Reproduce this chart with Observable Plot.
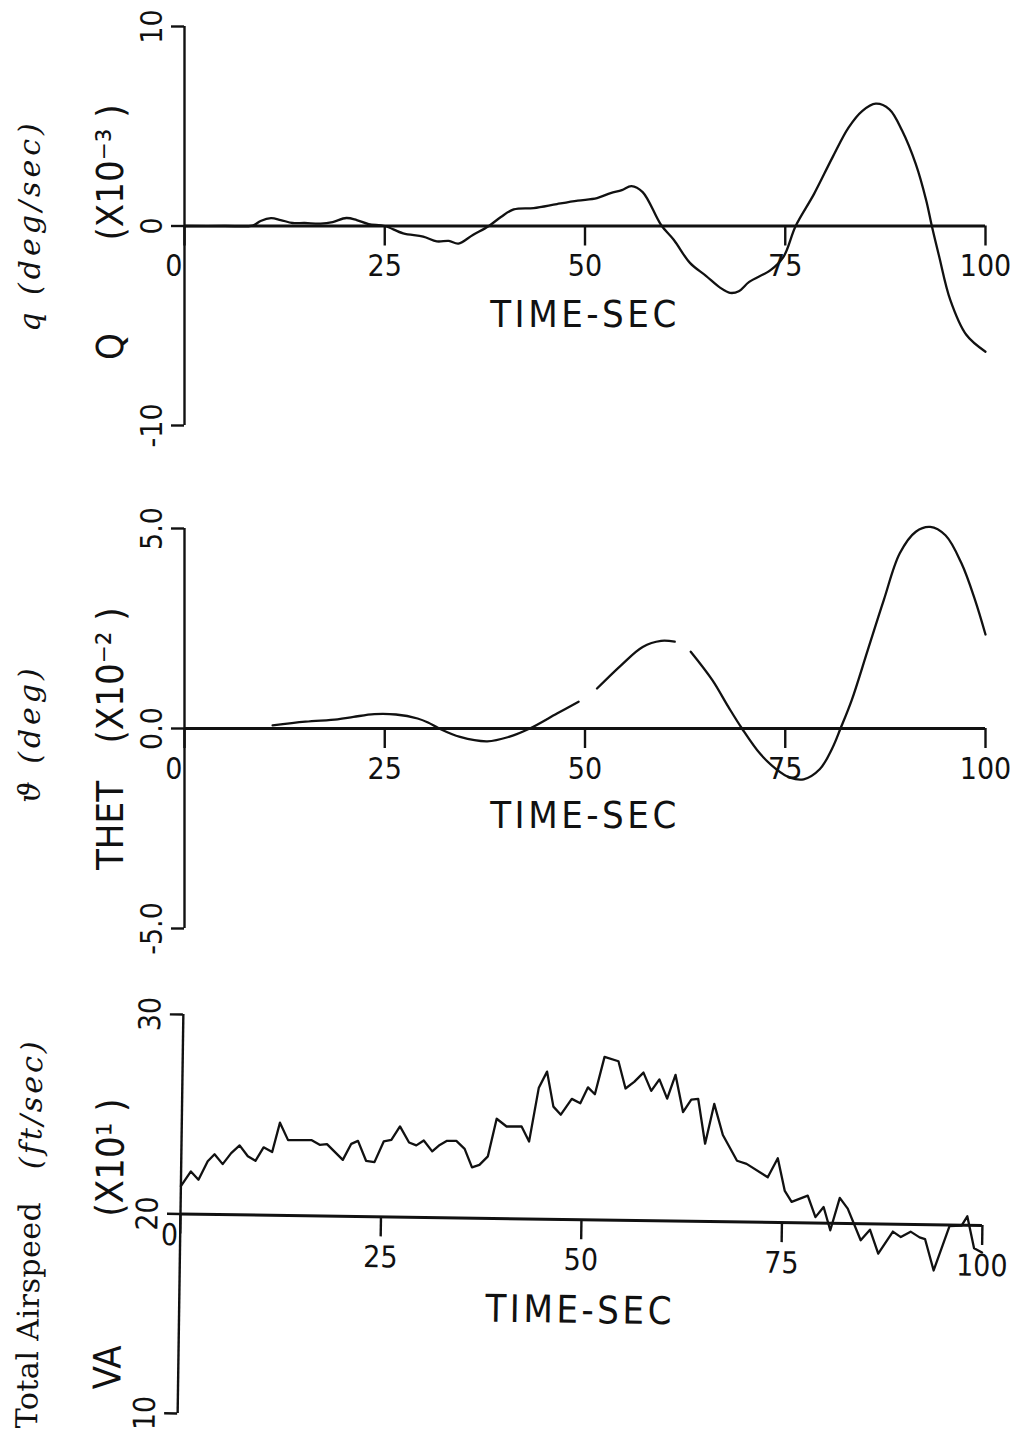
<!DOCTYPE html>
<html>
<head>
<meta charset="utf-8">
<script src="https://cdn.jsdelivr.net/npm/d3@7"></script>
<script src="https://cdn.jsdelivr.net/npm/@observablehq/plot@0.6"></script>
<style>
  html, body { margin: 0; padding: 0; background: #fff; }
  #chart { position: relative; width: 1022px; height: 1438px; overflow: hidden; background: #fff; }
  #chart svg { position: absolute; left: 0; overflow: visible; }
</style>
</head>
<body>
<div id="chart"></div>
<script>
// ---------- shared x axis ----------
const xDomain = [0, 100];
const xTicks = [0, 25, 50, 75, 100];
const xTickLabels = ["0", "25", "50", "75", "100"];
const xLabel = "TIME-SEC";

// ---------- panel 1 : Q ----------
const qDomain = [-10, 10];
const qTicks = [-10, 0, 10];
const qTickLabels = ["-10", "0", "10"];
const qAxisLevel = 0;
const qName = "Q";
const qScale = "(X10\u207B\u00B3 )";
const qUnits = "q (deg/sec)";
const qTime = [0, 5, 8.5, 9.5, 10.8, 12, 13.5, 15, 17, 18.5, 20.2, 21.5, 23, 25, 27.3, 29.8, 31.5, 33, 34.2, 36, 38, 39.5, 41.1, 43.6, 46.5, 49.1, 51.5, 53.2, 54.6, 55.8, 57.2, 59.5, 61.1, 63.1, 65.1, 66.9, 68.1, 69.2, 70.5, 73.2, 74.8, 76.3, 78.6, 80.9, 82.9, 84.6, 86.3, 88, 89.6, 91.3, 92.6, 93.3, 94.2, 95.6, 97.6, 100];
const qValue = [0, 0, 0.02, 0.25, 0.39, 0.3, 0.15, 0.15, 0.12, 0.2, 0.4, 0.3, 0.1, 0, -0.37, -0.53, -0.77, -0.75, -0.88, -0.45, 0, 0.45, 0.83, 0.9, 1.1, 1.27, 1.4, 1.65, 1.8, 2.0, 1.7, 0.05, -0.7, -1.85, -2.5, -3.1, -3.35, -3.27, -2.8, -2.2, -1.53, 0, 1.61, 3.44, 4.93, 5.76, 6.13, 5.85, 4.77, 3.1, 1.28, 0, -1.5, -3.7, -5.45, -6.3];

// ---------- panel 2 : THET ----------
const thetDomain = [-5, 5];
const thetTicks = [-5, 0, 5];
const thetTickLabels = ["-5.0", "0.0", "5.0"];
const thetAxisLevel = 0;
const thetName = "THET";
const thetScale = "(X10\u207B\u00B2 )";
const thetUnits = "\u03D1 (deg)";
const thetTime = [11, 15.1, 19.1, 21.1, 23.7, 26.4, 29.1, 30.4, 31.8, 34.4, 37.8, 40.5, 43.1, 46.5, 49.2, 50.3, 51.5, 54.5, 57.2, 59.5, 61.2, 62.2, 63.2, 65.9, 67.9, 69.6, 71.9, 73.9, 75.6, 77.3, 79.3, 80.9, 81.9, 83.3, 85.3, 87.3, 89.3, 91.3, 93.1, 95.0, 97.0, 98.7, 100];
const thetValue = [0.08, 0.17, 0.23, 0.29, 0.36, 0.35, 0.25, 0.15, 0, -0.21, -0.32, -0.21, 0, 0.375, 0.67, null, 1.0, 1.58, 2.04, 2.19, 2.17, null, 1.92, 1.21, 0.54, 0, -0.64, -1.02, -1.23, -1.27, -1.02, -0.48, 0, 0.71, 1.96, 3.21, 4.38, 4.92, 5.04, 4.83, 4.13, 3.21, 2.35];

// ---------- panel 3 : VA ----------
const vaDomain = [10, 30];
const vaTicks = [10, 20, 30];
const vaTickLabels = ["10", "20", "30"];
const vaAxisLevel = 20;
const vaName = "VA";
const vaScale = "(X10\u00B9 )";
const vaUnitsMain = "Total Airspeed";
const vaUnitsParen = "(ft/sec)";
const vaTime = [0, 1.22, 2.18, 3.3, 4.14, 5.17, 6.21, 7.25, 8.29, 9.25, 10.24, 11.32, 12.24, 13.28, 16.18, 17.23, 18.14, 20.14, 21.17, 22.0, 23.04, 24.09, 25.21, 26.16, 27.21, 28.37, 29.28, 30.2, 31.27, 32.2, 33.1, 34.26, 35.31, 36.26, 37.18, 38.22, 39.25, 40.5, 42.37, 43.33, 44.45, 45.45, 46.3, 47.24, 48.58, 49.65, 50.58, 51.45, 52.59, 54.33, 55.26, 56.33, 57.47, 58.47, 59.47, 60.47, 61.47, 62.47, 63.48, 64.34, 65.28, 66.35, 67.48, 69.29, 70.49, 73.15, 74.37, 75.3, 76.17, 78.17, 79.17, 80.17, 81.04, 82.17, 83.18, 84.85, 85.99, 87.06, 88.85, 89.85, 91.06, 92.19, 92.87, 94.0, 95.9, 97.4, 98.1, 99.0, 100];
const vaValue = [21.4, 22.14, 21.73, 22.66, 23.02, 22.53, 23.09, 23.48, 22.94, 22.72, 23.4, 23.17, 24.65, 23.78, 23.8, 23.57, 23.61, 22.83, 23.64, 23.79, 22.8, 22.74, 23.78, 23.87, 24.55, 23.75, 23.61, 23.86, 23.32, 23.65, 23.86, 23.86, 23.47, 22.55, 22.68, 23.11, 25.0, 24.62, 24.63, 23.88, 26.59, 27.4, 25.65, 25.25, 26.05, 25.84, 26.64, 26.3, 28.18, 27.97, 26.61, 26.95, 27.42, 26.51, 27.09, 26.13, 27.33, 25.47, 26.1, 26.14, 23.9, 25.9, 24.35, 23.07, 22.92, 22.26, 23.22, 21.59, 21.05, 21.37, 20.3, 20.81, 19.65, 21.28, 20.75, 19.17, 19.71, 18.51, 19.63, 19.36, 19.64, 19.36, 19.28, 17.71, 19.95, 19.98, 20.45, 18.85, 18.65];

// ---------- drawing ----------
const FONT_PLOT = "'Liberation Sans Narrow','DejaVu Sans Condensed','DejaVu Sans Mono',monospace";
const FONT_UNITS = "'DejaVu Serif','Liberation Serif',serif";
const INK = "#111";

function makePanel(o) {
  const data = o.time.map((t, i) => ({t, v: o.value[i]}));
  const yLabelMap = new Map(o.ticks.map((d, i) => [d, o.tickLabels[i]]));
  const xLabelMap = new Map(xTicks.map((d, i) => [d, xTickLabels[i]]));
  const H = o.height;
  const yTop = o.yTopPx - o.top;
  const yBot = o.yBotPx - o.top;
  const yScale = d3.scaleLinear().domain(o.domain).range([yBot, yTop]);
  const baseY = yScale(o.axisLevel);
  const frameMid = (yTop + baseY) / 2;
  const spacing = new Map([[xLabel, "3.5px"]]);
  const titles = o.titles.map(({label, pageY, spacing: sp, ...opts}) => {
    if (sp) spacing.set(label, sp);
    return Plot.text([label], {
      frameAnchor: "left", rotate: -90, fill: INK,
      fontFamily: FONT_PLOT, fontSize: 38, textAnchor: "middle", lineAnchor: "middle",
      ...opts,
      dy: pageY - o.top - frameMid
    });
  });
  const svg = Plot.plot({
    width: 1022,
    height: H,
    marginLeft: o.left,
    marginRight: o.right,
    marginTop: yTop,
    marginBottom: H - baseY,
    x: {domain: xDomain},
    y: {domain: o.domain, range: [yBot, yTop]},
    style: {fontFamily: FONT_PLOT, fontSize: "30px", color: INK, background: "transparent"},
    marks: [
      Plot.ruleY([o.axisLevel], {stroke: INK, strokeWidth: 3}),
      Plot.ruleX([xDomain[0]], {y1: o.domain[0], y2: o.domain[1], stroke: INK, strokeWidth: 2.4}),
      Plot.axisY({
        ticks: o.ticks, tickSize: 13, tickRotate: -90, tickPadding: 10,
        tickFormat: d => yLabelMap.get(d), stroke: INK, strokeWidth: 2.4, fill: INK, label: null
      }),
      Plot.axisX({
        ticks: xTicks, tickSize: 20, tickPadding: 9,
        tickFormat: d => (d === xTicks[0] ? "" : xLabelMap.get(d)),
        stroke: INK, strokeWidth: 2.4, fill: INK, label: null
      }),
      Plot.text([{t: xTicks[0], v: o.axisLevel, s: xTickLabels[0]}], {
        x: "t", y: "v", text: "s", textAnchor: "end", lineAnchor: "top",
        dx: -2, dy: o.zeroLabelDy, fill: INK
      }),
      Plot.text([xLabel], {
        frameAnchor: "bottom", dy: o.xLabelDy, lineAnchor: "middle",
        fontSize: 38, fill: INK
      }),
      Plot.line(data, {x: "t", y: "v", curve: o.curve, stroke: INK, strokeWidth: 2.3}),
      ...titles
    ]
  });
  // letter spacing for the label texts (style only)
  d3.select(svg).selectAll("text").each(function () {
    const sp = spacing.get(this.textContent);
    if (sp) this.style.letterSpacing = sp;
  });
  svg.style.top = o.top + "px";
  if (o.tilt) {
    svg.style.transformOrigin = `${o.left}px ${baseY}px`;
    svg.style.transform = `rotate(${o.tilt}deg)`;
  }
  return svg;
}

const chart = document.getElementById("chart");
const unitStyle = {fontFamily: FONT_UNITS, fontSize: 30};

chart.append(makePanel({
  top: 0, height: 480, left: 184, right: 37, yTopPx: 26, yBotPx: 425,
  domain: qDomain, ticks: qTicks, tickLabels: qTickLabels, axisLevel: qAxisLevel,
  time: qTime, value: qValue, curve: "catmull-rom", xLabelDy: 89, zeroLabelDy: 29,
  titles: [
    {label: qUnits, dx: -154, pageY: 225, fontStyle: "italic", spacing: "4px", ...unitStyle},
    {label: qName, dx: -74, pageY: 346},
    {label: qScale, dx: -74, pageY: 172}
  ]
}));

chart.append(makePanel({
  top: 480, height: 490, left: 184, right: 37, yTopPx: 528, yBotPx: 928,
  domain: thetDomain, ticks: thetTicks, tickLabels: thetTickLabels, axisLevel: thetAxisLevel,
  time: thetTime, value: thetValue, curve: "catmull-rom", xLabelDy: 87, zeroLabelDy: 29,
  titles: [
    {label: thetUnits, dx: -154, pageY: 733, fontStyle: "italic", spacing: "4px", ...unitStyle},
    {label: thetName, dx: -74, pageY: 825},
    {label: thetScale, dx: -74, pageY: 675}
  ]
}));

chart.append(makePanel({
  top: 970, height: 468, left: 180, right: 40, yTopPx: 1014, yBotPx: 1413,
  domain: vaDomain, ticks: vaTicks, tickLabels: vaTickLabels, axisLevel: vaAxisLevel,
  time: vaTime, value: vaValue, curve: "linear", xLabelDy: 91, zeroLabelDy: 10, tilt: 0.82,
  titles: [
    {label: vaUnitsMain, dx: -150, pageY: 1430, textAnchor: "start", spacing: "0.5px", ...unitStyle},
    {label: vaUnitsParen, dx: -150, pageY: 1040, textAnchor: "end", fontStyle: "italic", spacing: "3px", ...unitStyle},
    {label: vaName, dx: -70, pageY: 1368},
    {label: vaScale, dx: -70, pageY: 1158}
  ]
}));
</script>
</body>
</html>
